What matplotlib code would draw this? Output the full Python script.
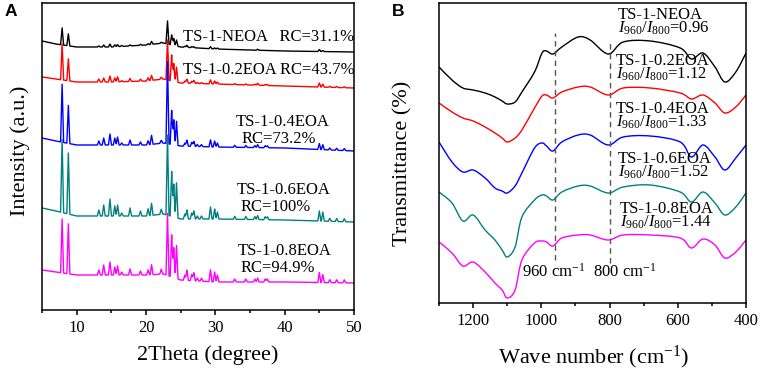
import numpy as np
import matplotlib
matplotlib.use("Agg")
import matplotlib.pyplot as plt
from matplotlib.path import Path
from matplotlib.patches import PathPatch

plt.rcParams["font.family"] = ["Liberation Serif", "DejaVu Serif"]
plt.rcParams["mathtext.fontset"] = "custom"
plt.rcParams["mathtext.rm"] = "Liberation Serif"
plt.rcParams["mathtext.it"] = "Liberation Serif:italic"

colors = ["black", "#ff0000", "#0000ff", "#008080", "#ff00ff"]

# ---- panel A: XRD (intensity in arbitrary units) ---- #
samples = ["TS-1-NEOA", "TS-1-0.2EOA", "TS-1-0.4EOA", "TS-1-0.6EOA", "TS-1-0.8EOA"]
rc_labels = ["RC=31.1%", "RC=43.7%", "RC=73.2%", "RC=100%", "RC=94.9%"]

base_2theta = [5, 7, 10, 15, 20, 22.5, 25, 30, 40, 50]
base_black = [269, 266, 263, 263, 265, 267, 263, 261, 259, 258]
base_red = [233, 231, 228, 228, 229, 231, 227, 226, 224, 222]
base_blue = [172, 169, 165, 165, 165, 167, 164, 163, 162, 159]
base_teal = [102, 99, 94, 94, 94, 96, 91, 91, 90, 88]
base_magenta = [40, 38, 35, 35, 35, 36, 30, 28, 28, 27]

peak_pos = [7.9, 8.8, 13.2, 13.9, 14.8, 15.5, 15.9, 16.5, 17.7, 19.2, 20.3, 20.8,
            22.2, 23.1, 23.7, 24.0, 24.4, 25.6, 25.9, 26.6, 26.9, 27.4, 28.0,
            29.3, 29.9, 30.3, 32.8, 34.4, 35.7, 36.1, 37.2, 37.5, 45.0, 45.5,
            46.5, 47.5, 48.6]
peaks_black = [17, 12, 1, 2, 3, 2, 2, 1, 1, 1, 1, 3, 1, 23, 10, 7, 6, 1, 2, 1, 1,
               0, 0, 2, 1, 1, 0, 0, 0, 1, 0, 0, 2, 1, 0, 0, 0]
peaks_red = [36, 22, 3, 4, 6, 4, 5, 1, 3, 2, 3, 5, 2, 40, 26, 18, 15, 2, 4, 2, 3,
             1, 1, 4, 3, 2, 1, 1, 1, 2, 1, 1, 4, 3, 1, 1, 1]
peaks_blue = [58, 38, 4, 7, 11, 7, 8, 2, 5, 3, 4, 9, 3, 82, 34, 25, 24, 3, 6, 4, 5,
              2, 2, 7, 6, 4, 2, 2, 2, 3, 2, 2, 6, 5, 2, 2, 2]
peaks_teal = [73, 61, 6, 11, 17, 10, 11, 3, 8, 5, 7, 12, 5, 80, 45, 33, 35, 5, 9, 6,
              8, 3, 3, 12, 10, 7, 3, 3, 3, 4, 3, 3, 10, 9, 3, 3, 3]
peaks_magenta = [54, 50, 5, 10, 13, 8, 9, 3, 6, 4, 5, 10, 5, 62, 42, 30, 33, 5, 10,
                 6, 8, 3, 3, 12, 10, 7, 3, 3, 3, 4, 3, 3, 10, 8, 3, 3, 3]

# ---- panel B: FTIR (transmittance in arbitrary units) ---- #
wavenumber = [1300, 1262, 1230, 1200, 1165, 1136, 1115, 1100, 1077, 1057, 1020, 998,
              985, 966, 940, 892, 857, 804, 760, 681, 593, 560, 526, 491, 462, 430, 400]
tr_black = [236, 223, 215, 213, 210, 206, 202, 199, 201, 211, 231, 250, 252, 249,
            256, 266, 263, 249, 261, 262, 255, 244, 250, 236, 221, 231, 250]
tr_red = [200, 191, 185, 182, 176, 170, 165, 161, 165, 173, 195, 207, 208, 205, 211,
          216, 216, 208, 215, 215, 210, 204, 208, 200, 190, 196, 208]
tr_blue = [161, 141, 131, 133, 125, 115, 112, 110, 117, 130, 155, 160, 157, 152, 161,
           168, 168, 158, 166, 167, 161, 146, 158, 146, 133, 145, 158]
tr_teal = [111, 100, 82, 88, 73, 63, 53, 46, 56, 86, 103, 108, 107, 103, 111, 117,
           117, 110, 116, 118, 111, 101, 111, 100, 88, 96, 110]
tr_magenta = [61, 50, 37, 41, 31, 20, 13, 5, 13, 43, 60, 62, 61, 57, 65, 68, 68, 63,
              68, 68, 65, 55, 64, 58, 45, 51, 63]
ratio_labels = ["0.96", "1.12", "1.33", "1.52", "1.44"]
marker_wn = [960, 800]


def xrd_curve(base_y, heights, w=0.22):
    # baseline knots plus triangular peaks (vertices at each peak and its flanks)
    xs = set(base_2theta)
    for p in peak_pos:
        xs.update((p - w, p, p + w))
    xs = np.array(sorted(xs))
    ys = np.interp(xs, base_2theta, base_y)
    for p, h in zip(peak_pos, heights):
        ys = ys + h * np.clip(1 - np.abs(xs - p) / w, 0, None)
    return xs, ys


def smooth_line(ax, x, y, color):
    # draw through the read points with cubic bezier segments (Catmull-Rom tangents)
    p = np.column_stack([x, y]).astype(float)
    p_ext = np.vstack([p[0], p, p[-1]])
    verts = [p[0]]
    codes = [Path.MOVETO]
    for i in range(1, len(p_ext) - 2):
        c1 = p_ext[i] + (p_ext[i + 1] - p_ext[i - 1]) / 6
        c2 = p_ext[i + 1] - (p_ext[i + 2] - p_ext[i]) / 6
        verts += [c1, c2, p_ext[i + 1]]
        codes += [Path.CURVE4] * 3
    ax.add_patch(PathPatch(Path(verts, codes), facecolor="none", edgecolor=color,
                           lw=1.0))


def style_axes(ax):
    for s in ax.spines.values():
        s.set_linewidth(1.1)
    ax.tick_params(axis="x", which="major", direction="out", length=3.5, width=1.1,
                   labelsize=12, pad=4)
    ax.tick_params(axis="x", which="minor", direction="out", length=2, width=1.1)
    ax.set_yticks([])


fig = plt.figure(figsize=(7.61, 3.70), dpi=100)

# ---- A ---- #
axA = fig.add_axes([0.0552, 0.1622, 0.41, 0.8297])
bases = [base_black, base_red, base_blue, base_teal, base_magenta]
peaks = [peaks_black, peaks_red, peaks_blue, peaks_teal, peaks_magenta]
for b, pk, c in zip(bases, peaks, colors):
    x, y = xrd_curve(b, pk)
    axA.plot(x, y, color=c, lw=1.0)
axA.set_xlim(5, 50)
axA.set_ylim(0, 307)
axA.set_xticks([10, 20, 30, 40, 50])
axA.set_xticks([5, 15, 25, 35, 45], minor=True)
style_axes(axA)
axA.set_xlabel("2Theta (degree)", fontsize=16)
axA.set_ylabel("Intensity (a.u.)", fontsize=16)
axA.xaxis.set_label_coords(0.53, -0.115)
axA.yaxis.set_label_coords(-0.04, 0.52)

fs = 12
axA.text(25.3, 273, samples[0] + "   " + rc_labels[0], fontsize=fs, va="center")
axA.text(25.3, 240, samples[1] + " " + rc_labels[1], fontsize=fs, va="center")
two_line = [(2, 33.0, 188, 33.8, 171), (3, 33.1, 120, 33.6, 103), (4, 33.3, 59, 33.6, 42)]
for i, x1, y1, x2, y2 in two_line:
    axA.text(x1, y1, samples[i], fontsize=fs, va="center")
    axA.text(x2, y2, rc_labels[i], fontsize=fs, va="center")

# ---- B ---- #
axB = fig.add_axes([0.5769, 0.1811, 0.4034, 0.8108])
for tr, c in zip([tr_black, tr_red, tr_blue, tr_teal, tr_magenta], colors):
    smooth_line(axB, wavenumber, tr, c)
axB.vlines(marker_wn[0], 43, 270, colors="#555555", linestyles=(0, (4, 3)), lw=1.0)
axB.vlines(marker_wn[1], 40, 260, colors="#555555", linestyles=(0, (4, 3)), lw=1.0)
axB.set_xlim(1300, 400)
axB.set_ylim(0, 300)
axB.set_xticks([1200, 1000, 800, 600, 400])
axB.set_xticks([1300, 1100, 900, 700, 500], minor=True)
style_axes(axB)
axB.set_xlabel("Wave number (cm$^{-1}$)", fontsize=16)
axB.set_ylabel("Transmittance (%)", fontsize=16)
axB.xaxis.set_label_coords(0.503, -0.135)
axB.yaxis.set_label_coords(-0.085, 0.465)

label_pos_b = [(775, 281), (781, 235), (781, 187), (775, 137), (769, 87)]
for (x, y), name, r in zip(label_pos_b, samples, ratio_labels):
    axB.text(x, y, name + "\n" +
             r"$\mathit{I}_{\mathrm{960}}/\mathit{I}_{\mathrm{800}}$=" + r,
             fontsize=fs, va="center", linespacing=0.75)
axB.text(1057, 31, "960 cm$^{-1}$", fontsize=fs, va="center")
axB.text(849, 31, "800 cm$^{-1}$", fontsize=fs, va="center")

fig.text(5 / 761, 1 - 12 / 370, "A", fontsize=12.5, fontweight="bold",
         family="Liberation Sans", va="center")
fig.text(392 / 761, 1 - 12 / 370, "B", fontsize=12.5, fontweight="bold",
         family="Liberation Sans", va="center")

fig.savefig("out.png", dpi=100)
